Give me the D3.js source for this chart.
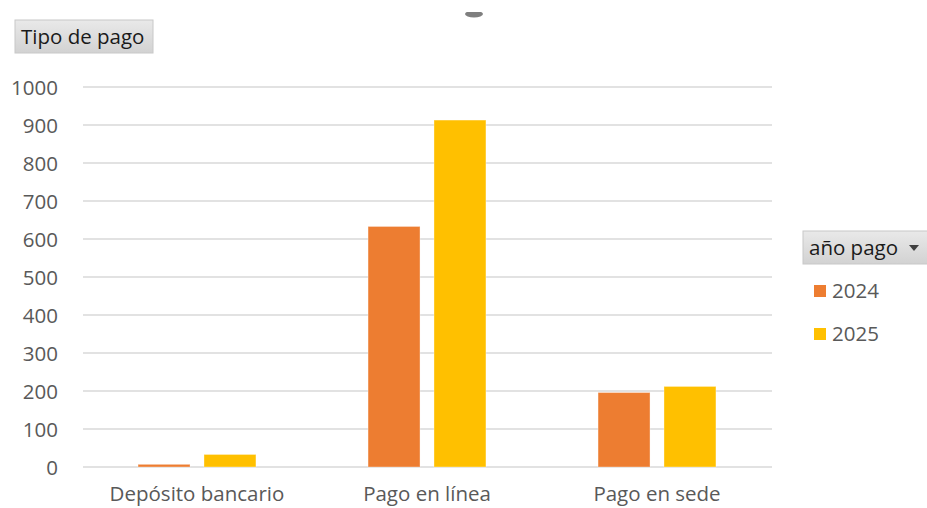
<!DOCTYPE html>
<html><head><meta charset="utf-8">
<script src="https://cdn.jsdelivr.net/npm/d3@7/dist/d3.min.js"></script>
<style>body{margin:0;background:#fff}svg{display:block}</style>
</head><body>
<svg id="c" width="927" height="508"></svg>
<script>
const categories = ["Depósito bancario", "Pago en línea", "Pago en sede"];
const seriesNames = ["2024", "2025"];
const values2024 = [7, 633, 196];
const values2025 = [33, 913, 212];
const yTicks = [0,100,200,300,400,500,600,700,800,900,1000];
const colors = ["#ED7D31", "#FFC000"];
const FONT = "'Open Sans', 'Segoe UI', sans-serif";
const FS = "20.5px";

const svg = d3.select("#c");
const x0 = d3.scaleBand().domain(categories).range([82, 772]).paddingInner(0).paddingOuter(0);
const x1 = d3.scaleBand().domain(seriesNames).range([0, x0.bandwidth()]).paddingInner(0.212).paddingOuter(0.85);
const y = d3.scaleLinear().domain([0, 1000]).range([467, 87]);

// gridlines
svg.append("g").selectAll("line").data(yTicks).join("line")
  .attr("x1", 83).attr("x2", 772)
  .attr("y1", d => y(d)).attr("y2", d => y(d))
  .attr("stroke", "#d9d9d9").attr("stroke-width", 1.3);

// y axis labels
const yAxis = d3.axisLeft(y).tickValues(yTicks).tickFormat(d3.format("d")).tickSize(0).tickPadding(0);
const gy = svg.append("g").attr("transform", "translate(58,0)").call(yAxis);
gy.select(".domain").remove();
gy.selectAll("text").attr("fill", "#595959").style("font-family", FONT).style("font-size", FS).attr("dy", "0.36em");

// x axis labels
const xAxis = d3.axisBottom(x0).tickSize(0).tickPadding(0);
const gx = svg.append("g").attr("transform", "translate(0,486)").call(xAxis);
gx.select(".domain").remove();
gx.selectAll("text").attr("fill", "#595959").style("font-family", FONT).style("font-size", FS).attr("dy", "0.73em");

// bars
const rows = categories.map((c, i) => ({cat: c, vals: [values2024[i], values2025[i]]}));
const groups = svg.append("g").selectAll("g").data(rows).join("g")
  .attr("transform", d => `translate(${x0(d.cat)},0)`);
groups.selectAll("rect").data(d => d.vals.map((v, j) => ({key: seriesNames[j], v, j}))).join("rect")
  .attr("x", d => x1(d.key)).attr("width", x1.bandwidth())
  .attr("y", d => y(d.v)).attr("height", d => y(0) - y(d.v))
  .attr("fill", d => colors[d.j])
  .attr("stroke", "#fff").attr("stroke-opacity", 0.35).attr("stroke-width", 1);

// gradient for field buttons
const defs = svg.append("defs");
const grad = defs.append("linearGradient").attr("id", "btn").attr("x1", 0).attr("y1", 0).attr("x2", 0).attr("y2", 1);
grad.append("stop").attr("offset", "0%").attr("stop-color", "#e9e9e9");
grad.append("stop").attr("offset", "100%").attr("stop-color", "#d2d2d2");

// title field button
svg.append("rect").attr("x", 15).attr("y", 20).attr("width", 138).attr("height", 33)
  .attr("fill", "url(#btn)").attr("stroke", "#c8c8c8").attr("stroke-width", 1);
svg.append("text").attr("x", 21).attr("y", 44).text("Tipo de pago")
  .attr("fill", "#1a1a1a").style("font-family", FONT).style("font-size", FS);

// legend field button
svg.append("rect").attr("x", 803).attr("y", 231).attr("width", 130).attr("height", 33)
  .attr("fill", "url(#btn)").attr("stroke", "#c8c8c8").attr("stroke-width", 1);
svg.append("text").attr("x", 809).attr("y", 255).text("año pago")
  .attr("fill", "#1a1a1a").style("font-family", FONT).style("font-size", FS);
svg.append("path").attr("d", "M909,245 L919,245 L914,251 Z").attr("fill", "#404040");

// legend items
const leg = svg.append("g").selectAll("g").data(seriesNames).join("g")
  .attr("transform", (d, i) => `translate(814,${285 + i * 43})`);
leg.append("rect").attr("width", 12).attr("height", 12).attr("fill", (d, i) => colors[i]);
leg.append("text").attr("x", 18).attr("y", 13).text(d => d)
  .attr("fill", "#595959").style("font-family", FONT).style("font-size", FS);

// cut-off title fragment at top
svg.append("ellipse").attr("cx", 474).attr("cy", 14).attr("rx", 9).attr("ry", 3.5).attr("fill", "#7f7f7f");
svg.append("rect").attr("x", 460).attr("y", 0).attr("width", 30).attr("height", 12).attr("fill", "#fff");
</script>
</body></html>
